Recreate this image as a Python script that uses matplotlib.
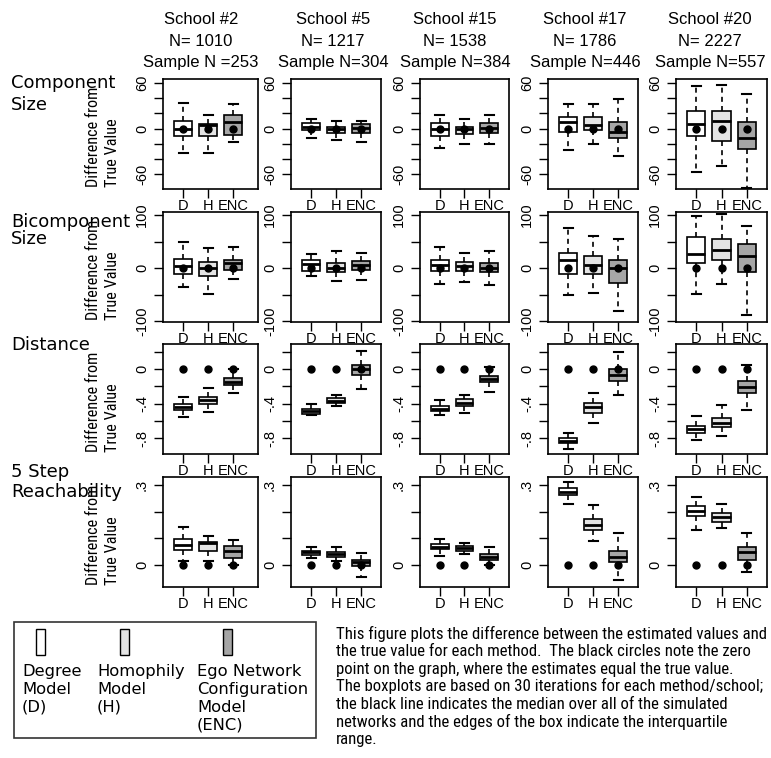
import os
import matplotlib
matplotlib.use("Agg")
import matplotlib.pyplot as plt
from matplotlib import font_manager
from matplotlib.font_manager import FontProperties
from matplotlib.patches import Rectangle

# a narrow sans face for the caption and axis label, if one is installed
narrow_path = None
for key in ["liberationsansnarrow-regular", "robotocondensed-regular", "opensanscondensed",
            "dejavusanscondensed.ttf", "notosans-condensed", "condensed-regular", "narrow"]:
    for f in font_manager.fontManager.ttflist:
        base = os.path.basename(f.fname).lower()
        if key in base and "bold" not in base and "italic" not in base and "oblique" not in base \
                and "mono" not in base and "serif" not in base:
            narrow_path = f.fname
            break
    if narrow_path:
        break


def narrow_font(size):
    if narrow_path:
        return FontProperties(fname=narrow_path, size=size)
    return FontProperties(family="Liberation Sans", size=size)


schools = ["School #2", "School #5", "School #15", "School #17", "School #20"]
pop_n = ["N= 1010", "N= 1217", "N= 1538", "N= 1786", "N= 2227"]
sample_n = ["Sample N =253", "Sample N=304", "Sample N=384", "Sample N=446", "Sample N=557"]
methods = ["D", "H", "ENC"]
colors = ["white", "#e4e4e4", "#a6a6a6"]
row_titles = [["Component", "Size"], ["Bicomponent", "Size"], ["Distance"], ["5 Step", "Reachability"]]

# per school, per method: (low whisker, q1, median, q3, high whisker)
component = [
    [[-32, -10, 0, 10.5, 34], [-32, -10, 4, 6, 18], [-18, -8, 9, 18, 32.5]],
    [[-12, -2.6, 2.6, 7, 13], [-15, -5.7, 0, 2.6, 10], [-18, -5.7, 1, 6, 10]],
    [[-26, -10, 0, 7, 18], [-20, -7, 0, 2.6, 12], [-20, -5.7, 1, 7, 18]],
    [[-28, -4, 8, 15, 32], [-21, -2, 5, 15, 32], [-36, -12, -4, 8, 39]],
    [[-58, -10, 6, 23, 56], [-49, -17, 10, 23, 57], [-79, -27, -12, 8, 45]],
]
bicomponent = [
    [[-36, -11, 4, 18, 50], [-49, -15, 0.5, 12, 38], [-21, -2.5, 9, 15, 40]],
    [[-15, -5.6, 7.5, 15, 27.5], [-24, -8, 1.3, 10, 32], [-22, -2.5, 5.6, 13, 29]],
    [[-30, -5.6, 5.6, 16, 40], [-26, -5.6, 3.7, 12, 29], [-32, -7, 1.3, 9, 32]],
    [[-50, -10, 15, 29, 75], [-46, -11, 5.6, 22.5, 60], [-80, -27, 0.6, 16, 54]],
    [[-49, 10, 27.5, 58.5, 99], [-30, 16, 34, 54, 102], [-87, -8, 22.5, 46, 79]],
]
distance = [
    [[-0.556, -0.47, -0.44, -0.41, -0.33], [-0.50, -0.41, -0.36, -0.32, -0.225], [-0.276, -0.18, -0.148, -0.10, 0.0]],
    [[-0.535, -0.52, -0.49, -0.46, -0.40], [-0.43, -0.39, -0.37, -0.34, -0.30], [-0.233, -0.07, 0.0, 0.047, 0.21]],
    [[-0.535, -0.49, -0.466, -0.43, -0.36], [-0.51, -0.43, -0.39, -0.35, -0.30], [-0.264, -0.155, -0.116, -0.078, 0.027]],
    [[-0.93, -0.86, -0.83, -0.80, -0.74], [-0.625, -0.505, -0.44, -0.39, -0.276], [-0.30, -0.136, -0.07, 0.0, 0.20]],
    [[-0.82, -0.74, -0.70, -0.66, -0.55], [-0.78, -0.67, -0.62, -0.57, -0.42], [-0.47, -0.283, -0.206, -0.14, 0.047]],
]
reach = [
    [[0.016, 0.056, 0.075, 0.096, 0.144], [0.015, 0.0525, 0.081, 0.085, 0.11], [0.0, 0.0275, 0.0525, 0.0725, 0.094]],
    [[0.025, 0.0375, 0.0475, 0.054, 0.069], [0.016, 0.031, 0.04, 0.05, 0.069], [-0.044, -0.004, 0.01, 0.021, 0.046]],
    [[0.034, 0.059, 0.069, 0.079, 0.096], [0.04, 0.054, 0.0625, 0.071, 0.081], [0.0, 0.021, 0.031, 0.04, 0.069]],
    [[0.229, 0.2625, 0.275, 0.2875, 0.3125], [0.091, 0.131, 0.15, 0.171, 0.225], [-0.054, 0.0125, 0.031, 0.054, 0.121]],
    [[0.131, 0.184, 0.204, 0.2225, 0.256], [0.14, 0.16, 0.179, 0.194, 0.229], [-0.0275, 0.021, 0.0475, 0.069, 0.121]],
]
all_rows = [component, bicomponent, distance, reach]

ylims = [(-79.8, 65.3), (-101, 105.6), (-0.985, 0.29), (-0.082, 0.33)]
yticks = [[-60, -40, -20, 0, 20, 40, 60], [-100, -50, 0, 50, 100],
          [-0.8, -0.6, -0.4, -0.2, 0, 0.2], [0, 0.1, 0.2, 0.3]]
ylabels = [["-60", "", "", "0", "", "", "60"], ["-100", "", "0", "", "100"],
           ["-.8", "", "-.4", "", "0", ""], ["0", "", "", ".3"]]

caption = ["This figure plots the difference between the estimated values and",
           "the true value for each method.  The black circles note the zero",
           "point on the graph, where the estimates equal the true value.",
           "The boxplots are based on 30 iterations for each method/school;",
           "the black line indicates the median over all of the simulated",
           "networks and the edges of the box indicate the interquartile",
           "range."]

W, H = 771, 758
fig = plt.figure(figsize=(W / 100, H / 100), dpi=100)
renderer = fig.canvas.get_renderer()


def fit_size(text, width_px, base=10.0):
    t = fig.text(0, 0, text, fontproperties=narrow_font(base))
    w = t.get_window_extent(renderer).width
    t.remove()
    return base * width_px / w


cap_size = min(fit_size(caption[0], 428), 13)
ylab_size = min(fit_size("Difference from", 100), 13)

col_left = [163, 291, 420, 548, 676]
col_width = [95, 90, 89, 90, 91]
col_xmax = [3.99, 3.8, 3.8, 3.8, 3.8]
row_top = [79, 212, 344, 477]
row_h = 110
title_x = [201, 333, 455, 585, 710]
title_base = [24, 45.5, 67]

for r in range(4):
    for c in range(5):
        ax = fig.add_axes([col_left[c] / W, 1 - (row_top[r] + row_h) / H,
                           col_width[c] / W, row_h / H])
        stats = []
        for m in range(3):
            lo, q1, med, q3, hi = all_rows[r][c][m]
            stats.append(dict(whislo=lo, q1=q1, med=med, q3=q3, whishi=hi, fliers=[]))
        bp = ax.bxp(stats, positions=[1, 2, 3], widths=0.72, capwidths=0.36,
                    patch_artist=True, showfliers=False,
                    boxprops=dict(edgecolor="black", linewidth=1.2),
                    whiskerprops=dict(color="black", linewidth=1.2, linestyle=(0, (3, 2.5))),
                    capprops=dict(color="black", linewidth=1.5),
                    medianprops=dict(color="black", linewidth=2))
        for patch, col in zip(bp["boxes"], colors):
            patch.set_facecolor(col)
        ax.plot([1, 2, 3], [0, 0, 0], "o", color="black", ms=5, zorder=5)
        ax.set_xlim(0.2, col_xmax[c])
        ax.set_ylim(*ylims[r])
        ax.set_yticks(yticks[r])
        ax.set_yticklabels(ylabels[r], rotation=90, va="center", family="Liberation Sans", fontsize=10.5)
        ax.set_xticks([1, 2, 3])
        ax.set_xticklabels(methods, family="Liberation Sans", fontsize=10.5)
        ax.tick_params(direction="out", length=6.5, width=1)
        ax.tick_params(axis="x", pad=0.5)
        ax.tick_params(axis="y", pad=3.5)
        for s in ax.spines.values():
            s.set_linewidth(1.2)
        if r == 0:
            for line, yb in zip([schools[c], pop_n[c], sample_n[c]], title_base):
                fig.text(title_x[c] / W, 1 - yb / H, line, ha="center", va="baseline",
                         family="Liberation Sans", fontsize=12)
        if c == 0:
            fig.text(103 / W, 1 - (row_top[r] + row_h / 2 + 3) / H,
                     "Difference from\nTrue Value", rotation=90, ha="center", va="center",
                     multialignment="left", fontproperties=narrow_font(ylab_size), linespacing=1.3)

row_label_base = [[88, 110], [227, 244], [350], [477, 497]]
for r in range(4):
    for line, yb in zip(row_titles[r], row_label_base[r]):
        fig.text(11 / W, 1 - yb / H, line, ha="left", va="baseline",
                 family="DejaVu Sans", fontsize=13)

# legend panel
lg = fig.add_axes([0, 0, 1, 1], facecolor="none")
lg.set_xlim(0, W)
lg.set_ylim(H, 0)
lg.axis("off")
lg.add_patch(Rectangle((14, 622), 302, 116, facecolor="white", edgecolor="#333333", linewidth=1.2))
legend_names = [["Degree", "Model", "(D)"], ["Homophily", "Model", "(H)"],
                ["Ego Network", "Configuration", "Model", "(ENC)"]]
swatch_x = [36, 120, 223]
text_x = [22, 97, 197]
for i in range(3):
    lg.add_patch(Rectangle((swatch_x[i], 629), 9, 26, facecolor=colors[i], edgecolor="black", linewidth=1))
    for j, line in enumerate(legend_names[i]):
        lg.text(text_x[i], 676 + 18 * j, line, ha="left", va="baseline",
                family="DejaVu Sans", fontsize=11.8)

for j, line in enumerate(caption):
    lg.text(336, 639 + 17.5 * j, line, ha="left", va="baseline", fontproperties=narrow_font(cap_size))

fig.savefig("out.png", dpi=100)
